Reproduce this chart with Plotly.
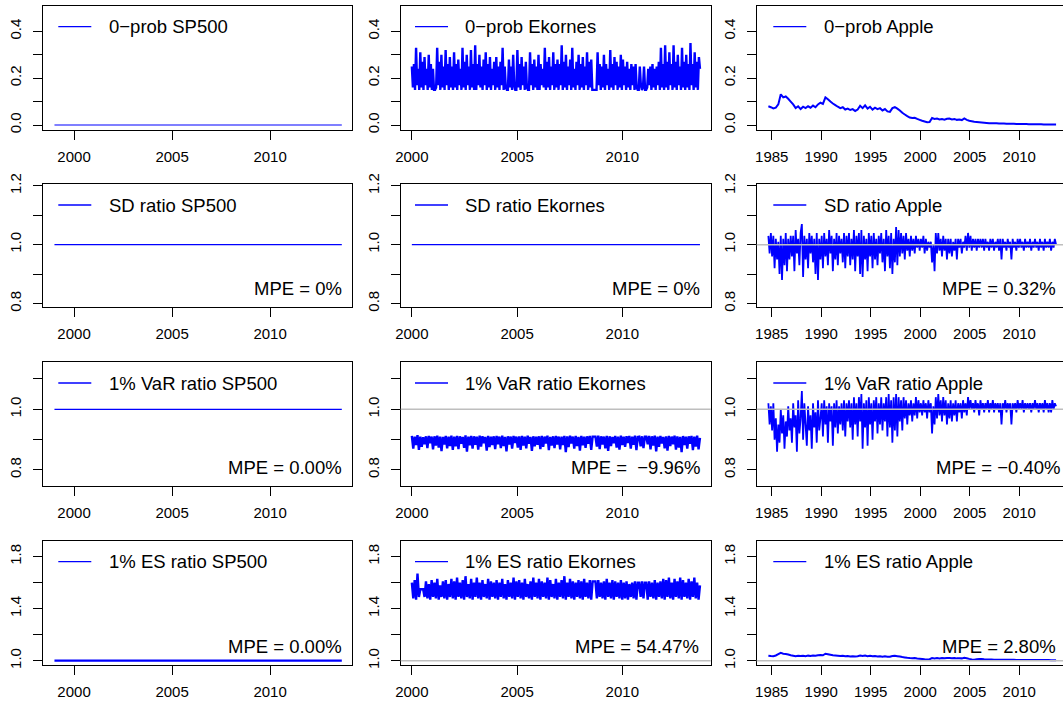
import numpy as np
import plotly.graph_objects as go

W, H = 1063, 706
FONT = "Liberation Sans, Arial, Helvetica, sans-serif"

# ---------------- data ----------------
sp500_start, sp500_end = 1999.0, 2013.66
ekornes_start, ekornes_end = 2000.0, 2013.69
apple_start, apple_end = 1984.66, 2013.72

sp500_zero_prob = [0.0, 0.0, 0.0, 0.0, 0.0, 0.0, 0.0, 0.0, 0.0, 0.0, 0.0, 0.0, 0.0, 0.0, 0.0]
sp500_sd_ratio = [1.0, 1.0, 1.0, 1.0, 1.0, 1.0, 1.0, 1.0, 1.0, 1.0, 1.0, 1.0, 1.0, 1.0, 1.0]
sp500_var_ratio = [1.0, 1.0, 1.0, 1.0, 1.0, 1.0, 1.0, 1.0, 1.0, 1.0, 1.0, 1.0, 1.0, 1.0, 1.0]
sp500_es_ratio = [1.0, 1.0, 1.0, 1.0, 1.0, 1.0, 1.0, 1.0, 1.0, 1.0, 1.0, 1.0, 1.0, 1.0, 1.0]
ekornes_sd_ratio = [1.0, 1.0, 1.0, 1.0, 1.0, 1.0, 1.0, 1.0, 1.0, 1.0, 1.0, 1.0, 1.0, 1.0, 1.0]

# 0-probability of Ekornes, in percent
ekornes_zero_prob_pct = [
    25, 16, 26, 15, 33, 17, 24, 15, 31, 16, 27, 15, 29, 17, 24, 15, 30, 16, 26, 15,
    24, 15, 15, 16, 33, 17, 27, 15, 30, 16, 25, 15, 32, 17, 26, 15, 29, 16, 25, 15,
    31, 16, 26, 15, 28, 17, 24, 15, 33, 16, 27, 15, 30, 17, 25, 15, 32, 16, 26, 15,
    34, 15, 26, 17, 30, 16, 25, 15, 28, 17, 31, 15, 26, 16, 29, 15, 24, 17, 27, 15,
    29, 16, 25, 15, 27, 17, 33, 15, 25, 16, 15, 15, 28, 16, 25, 15, 30, 17, 15, 15,
    32, 16, 26, 15, 29, 17, 25, 15, 27, 16, 15, 15, 31, 17, 26, 15, 28, 16, 25, 15,
    30, 15, 26, 17, 24, 16, 33, 15, 27, 16, 29, 15, 25, 17, 31, 15, 26, 16, 28, 15,
    26, 17, 34, 15, 27, 16, 30, 15, 25, 17, 28, 15, 33, 16, 24, 15, 27, 17, 30, 15,
    26, 16, 29, 15, 25, 17, 31, 15, 27, 16, 28, 15, 15, 15, 15, 15, 31, 17, 26, 15,
    25, 16, 30, 15, 26, 17, 24, 15, 32, 16, 26, 15, 29, 17, 27, 15, 25, 16, 30, 15,
    28, 17, 25, 15, 27, 16, 24, 15, 26, 17, 25, 15, 26, 16, 15, 15, 25, 17, 15, 16,
    25, 15, 15, 16, 24, 17, 25, 15, 26, 16, 24, 15, 25, 17, 27, 15, 33, 16, 26, 15,
    34, 16, 27, 15, 31, 17, 26, 15, 34, 16, 27, 15, 30, 17, 25, 15, 33, 16, 27, 15,
    30, 16, 26, 15, 35, 17, 26, 15, 31, 16, 27, 15, 29, 24,
]

ekornes_var_ratio = [
    0.912, 0.870, 0.910, 0.882, 0.915, 0.866, 0.910, 0.876, 0.908, 0.885, 0.911, 0.872, 0.912, 0.888, 0.910,
    0.868, 0.911, 0.880, 0.913, 0.874, 0.910, 0.862, 0.909, 0.884, 0.912, 0.871, 0.910, 0.879, 0.913, 0.866,
    0.910, 0.878, 0.912, 0.869, 0.911, 0.886, 0.909, 0.873, 0.914, 0.860, 0.910, 0.881, 0.912, 0.870, 0.911,
    0.883, 0.910, 0.867, 0.913, 0.877, 0.911, 0.888, 0.909, 0.864, 0.912, 0.875, 0.910, 0.882, 0.911, 0.869,
    0.912, 0.885, 0.910, 0.872, 0.913, 0.879, 0.909, 0.861, 0.911, 0.884, 0.910, 0.870, 0.912, 0.889, 0.910,
    0.874, 0.911, 0.866, 0.912, 0.880, 0.910, 0.871, 0.913, 0.886, 0.909, 0.863, 0.911, 0.878, 0.910, 0.883,
    0.911, 0.869, 0.912, 0.876, 0.910, 0.887, 0.913, 0.865, 0.909, 0.880, 0.911, 0.872, 0.912, 0.884, 0.910,
    0.868, 0.910, 0.882, 0.912, 0.859, 0.911, 0.875, 0.913, 0.887, 0.910, 0.870, 0.912, 0.879, 0.909, 0.864,
    0.912, 0.881, 0.910, 0.873, 0.911, 0.886, 0.912, 0.866, 0.910, 0.910, 0.910, 0.877, 0.913, 0.869, 0.911,
    0.884, 0.910, 0.871, 0.912, 0.863, 0.911, 0.879, 0.909, 0.888, 0.912, 0.874, 0.910, 0.867, 0.913, 0.882,
    0.910, 0.876, 0.911, 0.889, 0.912, 0.870, 0.910, 0.883, 0.913, 0.865, 0.909, 0.910, 0.878, 0.911, 0.872,
    0.910, 0.910, 0.885, 0.912, 0.868, 0.911, 0.880, 0.913, 0.861, 0.910, 0.876, 0.912, 0.887, 0.909, 0.871,
    0.911, 0.864, 0.912, 0.879, 0.910, 0.885, 0.913, 0.867, 0.911, 0.874, 0.909, 0.859, 0.912, 0.882, 0.910,
    0.870, 0.911, 0.886, 0.912, 0.865, 0.910, 0.877, 0.913, 0.868, 0.906,
]

ekornes_es_ratio = [
    1.60, 1.48, 1.62, 1.47, 1.67, 1.49, 1.55, 1.55, 1.55, 1.49, 1.61, 1.48, 1.59, 1.47, 1.62,
    1.49, 1.60, 1.48, 1.63, 1.47, 1.58, 1.49, 1.61, 1.48, 1.62, 1.47, 1.59, 1.49, 1.63, 1.48,
    1.61, 1.47, 1.64, 1.49, 1.60, 1.48, 1.62, 1.47, 1.65, 1.49, 1.59, 1.48, 1.63, 1.47, 1.60,
    1.49, 1.64, 1.48, 1.60, 1.47, 1.62, 1.49, 1.59, 1.48, 1.63, 1.47, 1.61, 1.49, 1.60, 1.48,
    1.62, 1.47, 1.60, 1.49, 1.63, 1.48, 1.59, 1.47, 1.62, 1.49, 1.60, 1.48, 1.64, 1.47, 1.61,
    1.49, 1.62, 1.48, 1.60, 1.47, 1.63, 1.49, 1.59, 1.48, 1.61, 1.47, 1.64, 1.49, 1.60, 1.48,
    1.63, 1.47, 1.61, 1.49, 1.60, 1.48, 1.64, 1.47, 1.62, 1.49, 1.59, 1.48, 1.63, 1.47, 1.60,
    1.49, 1.62, 1.48, 1.65, 1.47, 1.60, 1.49, 1.63, 1.48, 1.61, 1.47, 1.60, 1.49, 1.62, 1.48,
    1.61, 1.47, 1.63, 1.49, 1.60, 1.48, 1.62, 1.47, 1.61, 1.61, 1.61, 1.48, 1.62, 1.49, 1.60,
    1.48, 1.61, 1.47, 1.63, 1.49, 1.60, 1.48, 1.62, 1.47, 1.61, 1.49, 1.60, 1.48, 1.62, 1.47,
    1.60, 1.48, 1.61, 1.47, 1.59, 1.49, 1.60, 1.48, 1.61, 1.47, 1.60, 1.60, 1.49, 1.61, 1.48,
    1.60, 1.60, 1.47, 1.61, 1.49, 1.60, 1.48, 1.62, 1.47, 1.60, 1.49, 1.61, 1.48, 1.63, 1.47,
    1.62, 1.49, 1.64, 1.48, 1.60, 1.47, 1.63, 1.49, 1.61, 1.48, 1.64, 1.47, 1.62, 1.49, 1.60,
    1.48, 1.63, 1.47, 1.61, 1.49, 1.64, 1.48, 1.60, 1.47, 1.58,
]

apple_zero_prob = [
    0.080,
    0.076, 0.071, 0.074, 0.088,
    0.131, 0.118, 0.122, 0.112,
    0.100, 0.088, 0.072, 0.080,
    0.068, 0.078, 0.072, 0.080,
    0.074, 0.083, 0.076, 0.088,
    0.095, 0.090, 0.118, 0.110,
    0.100, 0.092, 0.085, 0.078,
    0.072, 0.076, 0.066, 0.070,
    0.064, 0.068, 0.060, 0.066,
    0.082, 0.072, 0.084, 0.070,
    0.078, 0.066, 0.074, 0.068,
    0.072, 0.062, 0.068, 0.058,
    0.056, 0.072, 0.076, 0.070,
    0.062, 0.052, 0.045, 0.038,
    0.032, 0.030, 0.031, 0.026,
    0.022, 0.018, 0.015, 0.012,
    0.013, 0.030, 0.026, 0.028,
    0.024, 0.026, 0.023, 0.027,
    0.028, 0.024, 0.026, 0.022,
    0.023, 0.021, 0.028, 0.022,
    0.018, 0.016, 0.014, 0.013,
    0.012, 0.011, 0.010, 0.009,
    0.008, 0.008, 0.007, 0.007,
    0.006, 0.006, 0.006, 0.005,
    0.005, 0.005, 0.005, 0.004,
    0.004, 0.004, 0.004, 0.004,
    0.003, 0.003, 0.003, 0.003,
    0.003, 0.003, 0.002, 0.002,
    0.002, 0.002, 0.002, 0.002,
]

apple_sd_ratio = [
    1.03, 0.97, 1.04,
    0.96, 1.03, 0.92, 1.02, 0.95, 1.01, 0.90, 1.03,
    0.88, 1.02, 0.93, 1.04, 0.91, 1.02, 0.95, 1.03,
    0.96, 1.03, 0.91, 1.05, 0.97, 1.02, 0.93, 1.04,
    1.07, 0.89, 1.03, 0.95, 1.02, 0.92, 1.04, 0.97,
    1.03, 0.94, 1.02, 0.90, 1.04, 0.88, 1.02, 0.95,
    1.03, 0.92, 1.04, 0.96, 1.02, 0.93, 1.05, 0.97,
    1.03, 0.91, 1.02, 0.95, 1.04, 0.93, 1.03, 0.97,
    1.02, 0.94, 1.04, 0.92, 1.03, 0.96, 1.04, 0.93,
    1.02, 0.95, 1.05, 0.91, 1.03, 0.96, 1.04, 0.90,
    1.05, 0.89, 1.03, 0.95, 1.02, 0.91, 1.04, 0.96,
    1.03, 0.92, 1.04, 0.95, 1.02, 0.93, 1.03, 0.97,
    1.04, 0.94, 1.02, 0.91, 1.05, 0.96, 1.03, 0.92,
    1.04, 0.90, 1.02, 0.94, 1.06, 0.93, 1.05, 0.96,
    1.04, 0.97, 1.03, 0.95, 1.04, 0.98, 1.02, 0.96,
    1.03, 0.98, 1.02, 0.97, 1.03, 0.99, 1.02, 0.98,
    1.02, 0.99, 1.03, 0.97, 1.02, 0.98, 1.01, 0.99,
    1.01, 0.94, 1.00, 0.91, 1.04, 0.97, 1.04, 0.98,
    1.02, 0.96, 1.03, 0.98, 1.02, 0.95, 1.02, 0.97,
    1.02, 0.96, 1.01, 0.98, 1.02, 0.95, 1.02, 0.99,
    1.02, 0.97, 1.01, 0.99, 1.03, 0.98, 1.04, 0.99,
    1.03, 0.98, 1.02, 0.99, 1.02, 0.98, 1.02, 0.99,
    1.02, 0.99, 1.02, 0.98, 1.02, 0.99, 1.01, 0.98,
    1.02, 0.99, 1.02, 0.98, 1.01, 0.99, 1.02, 0.98,
    1.02, 0.95, 1.02, 0.99, 1.01, 0.98, 1.02, 0.99,
    1.01, 0.95, 1.02, 0.99, 1.01, 0.98, 1.02, 0.99,
    1.02, 0.99, 1.01, 0.98, 1.02, 0.99, 1.01, 0.99,
    1.02, 0.98, 1.01, 0.99, 1.02, 0.99, 1.01, 0.98,
    1.02, 0.99, 1.01, 0.98, 1.02, 0.99, 1.01, 0.99,
    1.02, 0.98, 1.01, 0.99, 1.02, 1.00,
]

apple_var_ratio = [
    1.02, 0.95, 1.01,
    0.93, 1.02, 0.90, 0.97, 0.86, 0.95, 0.89, 1.00,
    0.92, 0.98, 0.87, 0.96, 0.91, 1.01, 0.93, 0.97,
    0.89, 1.02, 0.94, 0.98, 0.86, 1.03, 0.92, 0.97,
    1.06, 0.90, 1.02, 0.95, 0.88, 1.01, 0.93, 0.98,
    0.87, 1.02, 0.94, 0.99, 0.89, 1.03, 0.93, 0.97,
    1.02, 0.91, 1.03, 0.95, 1.01, 0.89, 1.02, 0.96,
    1.01, 0.88, 1.02, 0.94, 1.03, 0.92, 1.01, 0.95,
    1.02, 0.93, 1.03, 0.91, 1.02, 0.96, 1.03, 0.94,
    1.02, 0.90, 1.04, 0.95, 1.02, 0.91, 1.04, 0.96,
    1.05, 0.87, 1.02, 0.94, 1.03, 0.88, 1.04, 0.95,
    1.02, 0.90, 1.03, 0.96, 1.04, 0.92, 1.02, 0.95,
    1.04, 0.93, 1.02, 0.96, 1.04, 0.91, 1.05, 0.94,
    1.03, 0.89, 1.04, 0.93, 1.05, 0.91, 1.04, 0.96,
    1.03, 0.93, 1.04, 0.97, 1.03, 0.95, 1.02, 0.98,
    1.03, 0.96, 1.02, 0.98, 1.04, 0.97, 1.03, 0.99,
    1.02, 0.98, 1.03, 0.99, 1.02, 0.97, 1.03, 0.99,
    1.02, 0.92, 1.01, 0.95, 1.04, 0.97, 1.05, 0.98,
    1.03, 0.96, 1.04, 0.98, 1.03, 0.95, 1.02, 0.97,
    1.03, 0.96, 1.02, 0.98, 1.03, 0.96, 1.02, 0.99,
    1.02, 0.97, 1.03, 0.99, 1.02, 0.98, 1.04, 1.00,
    1.03, 1.00, 1.02, 0.99, 1.03, 1.00, 1.02, 0.98,
    1.03, 1.00, 1.02, 0.99, 1.02, 1.00, 1.03, 0.99,
    1.02, 1.00, 1.03, 0.99, 1.02, 1.00, 1.02, 0.99,
    1.02, 0.95, 1.02, 1.00, 1.03, 0.99, 1.02, 1.00,
    1.02, 0.95, 1.02, 1.00, 1.02, 0.99, 1.03, 1.00,
    1.02, 1.00, 1.03, 0.99, 1.02, 1.00, 1.02, 1.00,
    1.02, 0.99, 1.02, 1.00, 1.03, 1.00, 1.02, 0.99,
    1.02, 1.00, 1.02, 0.99, 1.03, 1.00, 1.02, 0.99,
    1.02, 0.99, 1.03, 1.00, 1.02, 1.01,
]

apple_es_ratio = [
    1.038,
    1.036, 1.035, 1.040, 1.050,
    1.060, 1.054, 1.052, 1.048,
    1.042, 1.038, 1.034, 1.038,
    1.036, 1.038, 1.035, 1.039,
    1.036, 1.040, 1.038, 1.042,
    1.044, 1.042, 1.054, 1.050,
    1.046, 1.042, 1.040, 1.038,
    1.036, 1.038, 1.034, 1.036,
    1.033, 1.035, 1.032, 1.034,
    1.040, 1.036, 1.040, 1.035,
    1.038, 1.034, 1.036, 1.033,
    1.035, 1.031, 1.034, 1.030,
    1.030, 1.036, 1.038, 1.035,
    1.032, 1.028, 1.025, 1.022,
    1.020, 1.019, 1.020, 1.017,
    1.015, 1.013, 1.011, 1.010,
    1.012, 1.020, 1.018, 1.020,
    1.018, 1.020, 1.019, 1.021,
    1.021, 1.019, 1.020, 1.018,
    1.019, 1.018, 1.022, 1.019,
    1.014, 1.010, 1.008, 1.012,
    1.014, 1.013, 1.011, 1.010,
    1.009, 1.009, 1.008, 1.008,
    1.008, 1.008, 1.007, 1.007,
    1.007, 1.007, 1.007, 1.006,
    1.006, 1.006, 1.006, 1.006,
    1.006, 1.005, 1.005, 1.005,
    1.005, 1.005, 1.005, 1.005,
    1.005, 1.004, 1.004, 1.004,
]

labels = [
    ["0−prob SP500", "0−prob Ekornes", "0−prob Apple"],
    ["SD ratio SP500", "SD ratio Ekornes", "SD ratio Apple"],
    ["1% VaR ratio SP500", "1% VaR ratio Ekornes", "1% VaR ratio Apple"],
    ["1% ES ratio SP500", "1% ES ratio Ekornes", "1% ES ratio Apple"],
]
mpe_texts = [
    [None, None, None],
    ["MPE = 0%", "MPE = 0%", "MPE = 0.32%"],
    ["MPE = 0.00%", "MPE =\u00a0 −9.96%", "MPE = −0.40%"],
    ["MPE = 0.00%", "MPE = 54.47%", "MPE = 2.80%"],
]

row_yticks = [[0.0, 0.1, 0.2, 0.3, 0.4], [0.8, 0.9, 1.0, 1.1, 1.2], [0.8, 0.9, 1.0, 1.1], [1.0, 1.2, 1.4, 1.6, 1.8]]
row_yticklabels = [["0.0", "", "0.2", "", "0.4"], ["0.8", "", "1.0", "", "1.2"], ["0.8", "", "1.0", ""], ["1.0", "", "1.4", "", "1.8"]]
col_xticks = [[2000, 2005, 2010], [2000, 2005, 2010], [1985, 1990, 1995, 2000, 2005, 2010]]

# series per panel: (start, end, values)
series = [
    [(sp500_start, sp500_end, sp500_zero_prob),
     (ekornes_start, ekornes_end, [v / 100 for v in ekornes_zero_prob_pct]),
     (apple_start, apple_end, apple_zero_prob)],
    [(sp500_start, sp500_end, sp500_sd_ratio),
     (ekornes_start, ekornes_end, ekornes_sd_ratio),
     (apple_start, apple_end, apple_sd_ratio)],
    [(sp500_start, sp500_end, sp500_var_ratio),
     (ekornes_start, ekornes_end, ekornes_var_ratio),
     (apple_start, apple_end, apple_var_ratio)],
    [(sp500_start, sp500_end, sp500_es_ratio),
     (ekornes_start, ekornes_end, ekornes_es_ratio),
     (apple_start, apple_end, apple_es_ratio)],
]
reference_line = [
    [False, False, False],
    [False, False, True],
    [False, True, True],
    [False, True, True],
]
line_widths = [
    [1.2, 2.4, 2.0],
    [1.2, 1.2, 1.8],
    [1.2, 2.4, 1.8],
    [2.2, 2.4, 2.0],
]

# ---------------- layout geometry (pixels) ----------------
col_px = [(42.7, 352.0), (400.7, 710.7), (756.7, 1063.0)]
row_px = [(5.7, 130.0), (184.0, 307.3), (362.0, 486.0), (540.7, 665.0)]
col_xrange = [(1998.40, 2014.18), (1999.47, 2014.20), (1983.48, 2014.42)]
row_yrange = [(-0.0213, 0.5094), (0.787, 1.2065), (0.747, 1.156), (0.967, 1.923)]
legend_line_px = [58.3, 415.0, 773.3]
legend_text_px = [106.7, 463.3, 821.7]
mpe_right_px = [
    [None, None, None],
    [343.5, 701.5, 1057.5],
    [343.5, 703.3, 1062.0],
    [343.5, 701.0, 1057.5],
]

BLUE = "#0000FF"
GRAY = "#BEBEBE"

fig = go.Figure()
layout = dict(
    width=W, height=H, margin=dict(l=0, r=0, t=0, b=0, autoexpand=False),
    paper_bgcolor="white", plot_bgcolor="white", showlegend=False,
    font=dict(family=FONT, color="black"),
)
shapes = []
annotations = []

k = 0
for r in range(4):
    for c in range(3):
        k += 1
        xa = "xaxis" if k == 1 else f"xaxis{k}"
        ya = "yaxis" if k == 1 else f"yaxis{k}"
        xr = "x" if k == 1 else f"x{k}"
        yr = "y" if k == 1 else f"y{k}"
        x0p, x1p = col_px[c]
        ytp, ybp = row_px[r]
        layout[xa] = dict(
            domain=[x0p / W, x1p / W], range=list(col_xrange[c]), anchor=yr,
            tickmode="array", tickvals=col_xticks[c], ticktext=[str(t) for t in col_xticks[c]],
            ticks="outside", ticklen=9, tickwidth=1, tickcolor="black",
            showline=True, linecolor="black", linewidth=1, mirror=True,
            showgrid=False, zeroline=False, tickfont=dict(size=15, family=FONT),
            ticklabelstandoff=4, fixedrange=True,
        )
        layout[ya] = dict(
            domain=[1 - ybp / H, 1 - ytp / H], range=list(row_yrange[r]), anchor=xr,
            tickmode="array", tickvals=row_yticks[r], ticktext=row_yticklabels[r],
            tickangle=-90, ticks="outside", ticklen=9, tickwidth=1, tickcolor="black",
            showline=True, linecolor="black", linewidth=1, mirror=(c != 2),
            showgrid=False, zeroline=False, tickfont=dict(size=15, family=FONT),
            ticklabelstandoff=6, fixedrange=True,
        )
        start, end, vals = series[r][c]
        xs = np.linspace(start, end, len(vals))
        fig.add_trace(go.Scatter(
            x=xs, y=vals, mode="lines",
            line=dict(color=BLUE, width=line_widths[r][c], simplify=False),
            xaxis=xr, yaxis=yr, hoverinfo="skip", name=labels[r][c],
        ))
        if reference_line[r][c]:
            shapes.append(dict(type="line", xref=f"{xr} domain", x0=0, x1=1,
                               yref=yr, y0=1.0, y1=1.0, layer="above",
                               line=dict(color=GRAY, width=1.6)))
        # legend key and label
        ly = ytp + 21.0
        shapes.append(dict(type="line", xref="paper", yref="paper",
                           x0=legend_line_px[c] / W, x1=(legend_line_px[c] + 33) / W,
                           y0=1 - ly / H, y1=1 - ly / H, line=dict(color=BLUE, width=1.3)))
        annotations.append(dict(text=labels[r][c], xref="paper", yref="paper",
                                x=legend_text_px[c] / W, y=1 - ly / H,
                                xanchor="left", yanchor="middle", showarrow=False,
                                font=dict(size=18.5, family=FONT, color="black")))
        if mpe_texts[r][c]:
            my = ybp - 19.0
            annotations.append(dict(text=mpe_texts[r][c], xref="paper", yref="paper",
                                    x=mpe_right_px[r][c] / W, y=1 - my / H,
                                    xanchor="right", yanchor="middle", showarrow=False,
                                    font=dict(size=18.5, family=FONT, color="black")))

layout["shapes"] = shapes
layout["annotations"] = annotations
fig.update_layout(**layout)
fig.write_html(
    "out.html",
    config={"displayModeBar": False},
    post_script="document.body.style.margin='0';document.documentElement.style.margin='0';",
)
